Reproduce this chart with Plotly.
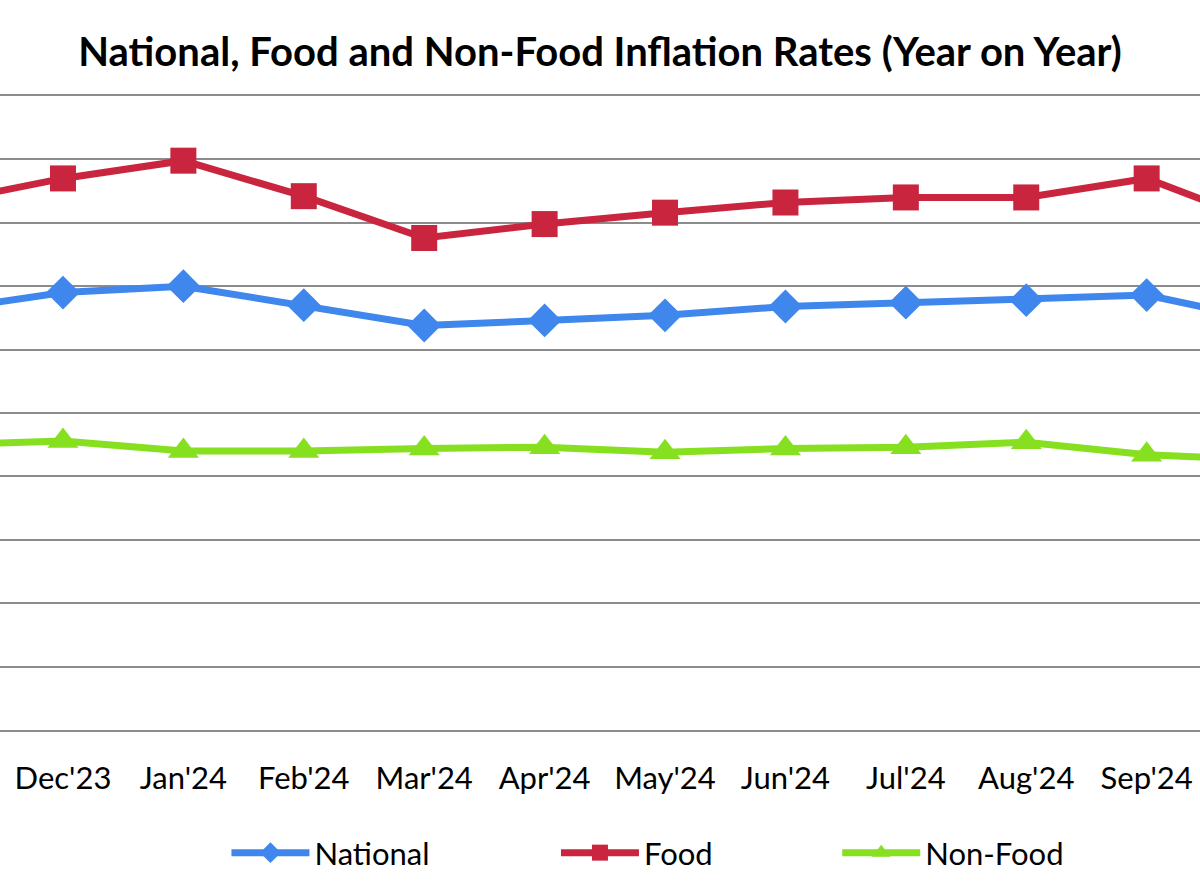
import plotly.graph_objects as go

months = ["Nov'23", "Dec'23", "Jan'24", "Feb'24", "Mar'24", "Apr'24", "May'24",
          "Jun'24", "Jul'24", "Aug'24", "Sep'24", "Oct'24"]
national = [33.1, 34.5, 35.0, 33.5, 31.9, 32.3, 32.7, 33.4, 33.7, 33.9, 34.3, 32.3]
food = [41.6, 43.5, 44.9, 42.1, 38.8, 39.9, 40.8, 41.6, 42.0, 42.0, 43.5, 39.9]
non_food = [22.5, 22.8, 22.0, 22.0, 22.2, 22.3, 21.9, 22.2, 22.3, 22.7, 21.7, 21.3]

FONT = "Lato"
fig = go.Figure()
series = [
    ("National", national, "#3f87ec", "diamond", 26, "legend"),
    ("Food", food, "#c9253f", "square", 26, "legend2"),
    ("Non-Food", non_food, "#86e01f", "triangle-up", 27, "legend3"),
]
for name, vals, col, sym, sz, lg in series:
    fig.add_trace(go.Scatter(
        x=months, y=vals, name=name, mode="lines+markers",
        line=dict(color=col, width=7),
        marker=dict(symbol=sym, size=sz, color=col),
        legend=lg, cliponaxis=True,
    ))

legend_common = dict(orientation="h", yanchor="middle", y=-0.194, xanchor="left",
                     font=dict(family=FONT, size=31, color="#000000"),
                     bgcolor="rgba(0,0,0,0)", itemwidth=78)
fig.update_layout(
    width=1200, height=888,
    margin=dict(l=0, r=0, t=96, b=158, autoexpand=False),
    paper_bgcolor="white", plot_bgcolor="white",
    showlegend=True,
    title=dict(text="<b>National, Food and Non-Food Inflation Rates (Year on Year)</b>",
               x=0.5, xanchor="center", y=1 - 52 / 888, yanchor="middle",
               font=dict(family=FONT, size=40, color="#000000")),
    xaxis=dict(type="category", range=[0.477, 10.443], showgrid=False,
               showline=True, linecolor="#8c8c8c", linewidth=2, mirror=True,
               zeroline=False, ticks="", ticklabelstandoff=20,
               tickfont=dict(family=FONT, size=31, color="#000000")),
    yaxis=dict(range=[0, 50], dtick=5, showgrid=True, gridcolor="#8c8c8c",
               gridwidth=2, showticklabels=False, zeroline=False, showline=False),
    legend=dict(legend_common, x=0.1887),
    legend2=dict(legend_common, x=0.4633),
    legend3=dict(legend_common, x=0.6977),
)
fig.write_html("out.html", config={"displayModeBar": False},
               post_script="document.body.style.margin='0';")
